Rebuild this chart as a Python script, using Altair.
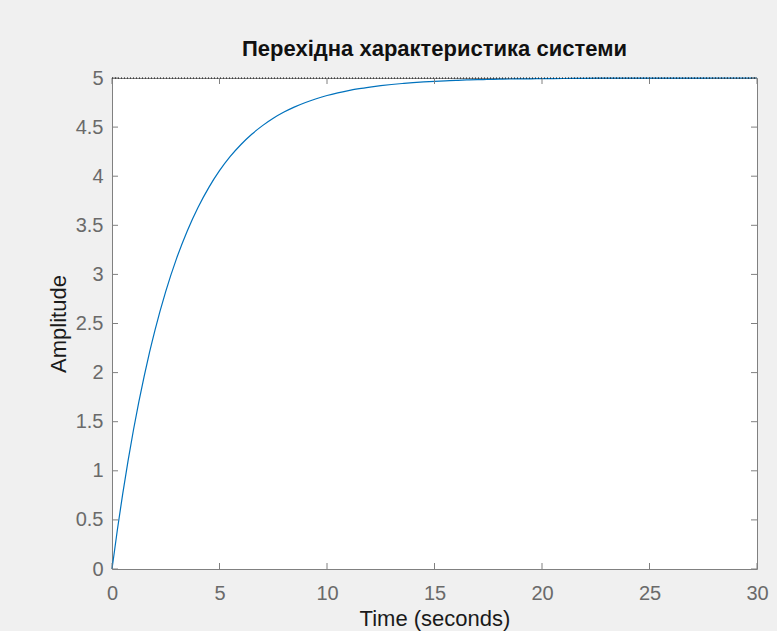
import altair as alt
import pandas as pd

# Step response (time in seconds, amplitude)
t_vals = [0, 0.25, 0.5, 0.75, 1, 1.25, 1.5, 1.75, 2, 2.5, 3, 3.5, 4, 4.5, 5, 5.5,
          6, 6.5, 7, 7.5, 8, 8.5, 9, 9.5, 10, 10.5, 11, 11.5, 12, 12.5, 13, 13.5,
          14, 14.5, 15, 15.5, 16, 16.5, 17, 17.5, 18, 18.5, 19, 19.5, 20, 21, 22,
          23, 24, 25, 26, 27, 28, 29, 30]
amp_vals = [0.0, 0.400, 0.768, 1.106, 1.418, 1.704, 1.967, 2.210, 2.433, 2.827,
            3.161, 3.443, 3.682, 3.884, 4.056, 4.201, 4.323, 4.427, 4.515, 4.590,
            4.653, 4.706, 4.751, 4.789, 4.822, 4.849, 4.872, 4.892, 4.908, 4.922,
            4.934, 4.944, 4.953, 4.960, 4.966, 4.971, 4.976, 4.980, 4.983, 4.985,
            4.988, 4.990, 4.991, 4.992, 4.994, 4.995, 4.997, 4.998, 4.998, 4.999,
            4.999, 4.999, 5.0, 5.0, 5.0]
final_value = [5.0]
x_ticks = [0, 5, 10, 15, 20, 25, 30]
y_ticks = [0, 0.5, 1, 1.5, 2, 2.5, 3, 3.5, 4, 4.5, 5]

W, H = 645, 491
GRAY = "#808080"
LABEL = "#6a6a6a"
FONT = "Liberation Sans"

df = pd.DataFrame({"t": t_vals, "a": amp_vals})
xt = pd.DataFrame({"t": x_ticks})
yt = pd.DataFrame({"a": y_ticks})
fin = pd.DataFrame({"a": final_value})

xs = alt.Scale(domain=[0, 30], nice=False, zero=False)
ys = alt.Scale(domain=[0, 5], nice=False, zero=False)

x_axis = alt.Axis(
    title="Time (seconds)", values=x_ticks, ticks=False, tickSize=0, domain=False,
    grid=False, labelFont=FONT, labelFontSize=20, labelColor=LABEL, labelPadding=14,
    labelFlush=False, labelOverlap=False,
    titleFont=FONT, titleFontSize=22, titleFontWeight="normal", titleColor="#1a1a1a",
    titlePadding=5, format="~g")
y_axis = alt.Axis(
    title="Amplitude", values=y_ticks, ticks=False, tickSize=0, domain=False,
    grid=False, labelFont=FONT, labelFontSize=20, labelColor=LABEL, labelPadding=9,
    labelFlush=False, labelOverlap=False,
    titleFont=FONT, titleFontSize=22, titleFontWeight="normal", titleColor="#1a1a1a",
    titlePadding=5, format="~g")

X = alt.X("t:Q", scale=xs, axis=x_axis)
Y = alt.Y("a:Q", scale=ys, axis=y_axis)

line = alt.Chart(df).mark_line(color="#0072BD", strokeWidth=1.2, interpolate="monotone").encode(
    x=X, y=Y)

tick_bottom = alt.Chart(xt).mark_rule(color=GRAY).encode(
    x=X, y=alt.value(H), y2=alt.value(H - 6))
tick_top = alt.Chart(xt).mark_rule(color=GRAY).encode(
    x=X, y=alt.value(0), y2=alt.value(6))
tick_left = alt.Chart(yt).mark_rule(color=GRAY).encode(
    y=Y, x=alt.value(0), x2=alt.value(6))
tick_right = alt.Chart(yt).mark_rule(color=GRAY).encode(
    y=Y, x=alt.value(W), x2=alt.value(W - 6))

final_rule = alt.Chart(fin).mark_rule(color="black", strokeDash=[1, 2], strokeWidth=1).encode(
    y=Y, x=alt.value(0), x2=alt.value(W))

chart = alt.layer(
    line, tick_bottom, tick_top, tick_left, tick_right, final_rule
).properties(
    width=W, height=H,
    title=alt.TitleParams("Перехідна характеристика системи", font=FONT, fontSize=22,
                          fontWeight="bold", color="#111111", anchor="middle", offset=7),
    autosize=alt.AutoSizeParams(type="none"),
    padding={"left": 112, "top": 78, "right": 20, "bottom": 62},
).configure(background="#f0f0f0").configure_view(
    stroke=GRAY, strokeWidth=1, fill="white")

chart.save("out.html", embed_options={"renderer": "svg", "actions": False})
